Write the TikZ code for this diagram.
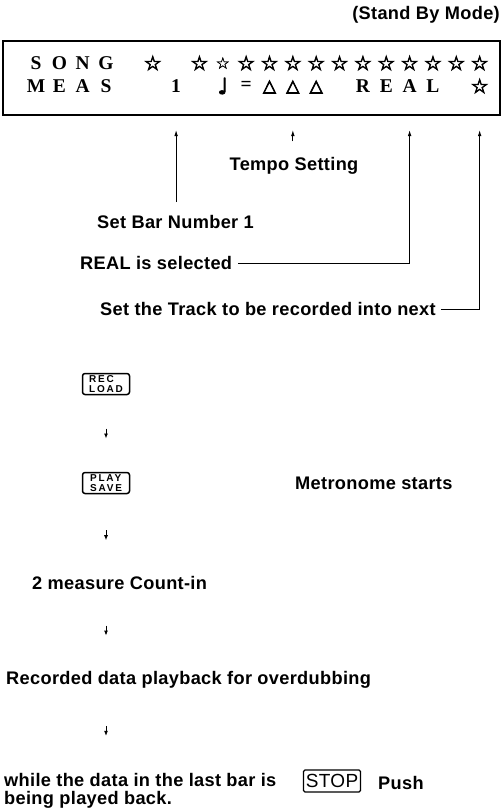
\documentclass[tikz,border=0pt]{standalone}
\usepackage{fontspec}
\usepackage{tikz}
\usetikzlibrary{calc,arrows.meta}
\newfontfamily\labelfont{Liberation Sans}[LetterSpace=1.8]
\newfontfamily\lcdfont{Liberation Serif}
\newfontfamily\symfont{DejaVu Sans}[FakeBold=4]
\newfontfamily\symlight{DejaVu Sans}[FakeBold=1.2]
\newfontfamily\capfont{Liberation Sans}[LetterSpace=18]
\newcommand{\Lbl}{\labelfont\fontsize{18.2}{18}\selectfont}
\newcommand{\Lcd}{\lcdfont\bfseries\fontsize{19.5}{19}\selectfont}
\newcommand{\Sym}{\symfont\fontsize{19.5}{19.5}\selectfont}
\newcommand{\Key}{\capfont\bfseries\fontsize{10}{10}\selectfont}

\begin{document}
\begin{tikzpicture}[x=1pt,y=-1pt, font=\Lbl,
    lbl/.style={inner sep=0pt, font=\Lbl\bfseries},
    lcd/.style={inner sep=0pt, font=\Lcd},
    sym/.style={inner sep=0pt, font=\Sym},
    keycap/.style={draw, rounded corners=2.5pt, line width=1.5pt, inner xsep=2.5pt, inner ysep=0pt,
      minimum width=47pt, minimum height=21pt, align=left, font=\Key},
    arr/.style={line width=0.9pt, -{Latex[length=6pt,width=3.6pt]}},
    stub/.style={line width=0.9pt, -{Latex[length=5pt,width=4pt]}}]
  \useasboundingbox (0,0) rectangle (502,811);
  \node[lbl, anchor=east] (mode) at (500,15) {(Stand By Mode)};
  % display window
  \draw[line width=1.5pt] (3,41) rectangle (500,115);
  \foreach \ch [count=\c from 0] in {S,O,N,G}{\node[lcd] (s\c) at (36+23.35*\c,63) {\ch};}
  \node[sym] (s5) at (36+23.35*5,63) {☆};
  \foreach \c in {7,9,10,...,19}{\node[sym] (s\c) at (36+23.35*\c,63) {☆};}
  \node[sym, font=\symlight\fontsize{16}{16}\selectfont] (s8) at (36+23.35*8,63) {☆};
  \foreach \ch [count=\c from 0] in {M,E,A,S}{\node[lcd] (m\c) at (36+23.35*\c,86) {\ch};}
  \node[lcd] (m6) at (36+23.35*6,86) {1};
  \node[sym, font=\symfont\fontsize{22}{22}\selectfont] (m8) at (36+23.35*8,86) {♩};
  \node[lcd] (m9) at (36+23.35*9,86) {=};
  \foreach \c in {10,11,12}{\node[sym, font=\symfont\fontsize{17}{17}\selectfont] (m\c) at (36+23.35*\c,87) {△};}
  \foreach \ch [count=\c from 14] in {R,E,A,L}{\node[lcd] (m\c) at (36+23.35*\c,86) {\ch};}
  \node[sym] (m19) at (36+23.35*19,86) {☆};
  \coordinate (tips) at (0,130);
  % labels under the window
  \node[lbl] (tempo) at (294,166) {Tempo Setting};
  \node[lbl, anchor=west] (bar) at (97,222) {Set Bar Number 1};
  \node[lbl, anchor=west] (real) at (80,263) {REAL is selected};
  \node[lbl, anchor=west] (track) at (100,309) {Set the Track to be recorded into next};
  \draw[arr, shorten <=13pt] (bar.north -| m6) -- (m6 |- tips);
  \draw[arr, shorten <=16pt] (tempo.north -| m11) -- (m11 |- tips);
  \draw[arr, shorten <=6pt] (real.east) -- (real.east -| m16) -- (m16 |- tips);
  \draw[arr, shorten <=5pt] (track.east) -- (track.east -| m19) -- (m19 |- tips);
  % steps
  \node[keycap] (rec) at (106,384) {REC\\LOAD};
  \node[keycap] (play) at (106,483) {PLAY\\SAVE};
  \node[lbl, anchor=west] (metro) at (295,483) {Metronome starts};
  \node[lbl, anchor=west] (count) at (32,583) {2 measure Count-in};
  \node[lbl, anchor=west] (recd) at (6,680) {Recorded data playback for overdubbing};
  \node[lbl, anchor=north west, align=left] (while) at (4,773) {while the data in the last bar is\\being played back.};
  \node[draw, rounded corners=1.5pt, line width=1.3pt, inner sep=0pt, minimum width=57pt, minimum height=22pt,
    font=\labelfont\fontsize{19}{19}\selectfont] (stop) at (332,781) {STOP};
  \node[lbl, anchor=west] (push) at (378,783) {Push};
  \draw[stub] ($(rec.south)!.5!(play.north)$) ++(0,-5) -- ++(0,10);
  \draw[stub] ($(play.south)!.5!(count.north -| play)$) ++(0,-5) -- ++(0,10);
  \draw[stub] ($(count.south -| play)!.5!(recd.north -| play)$) ++(0,-5) -- ++(0,10);
  \draw[stub] ($(recd.south -| play)!.5!(while.north -| play)$) ++(0,-5) -- ++(0,10);
\end{tikzpicture}
\end{document}
